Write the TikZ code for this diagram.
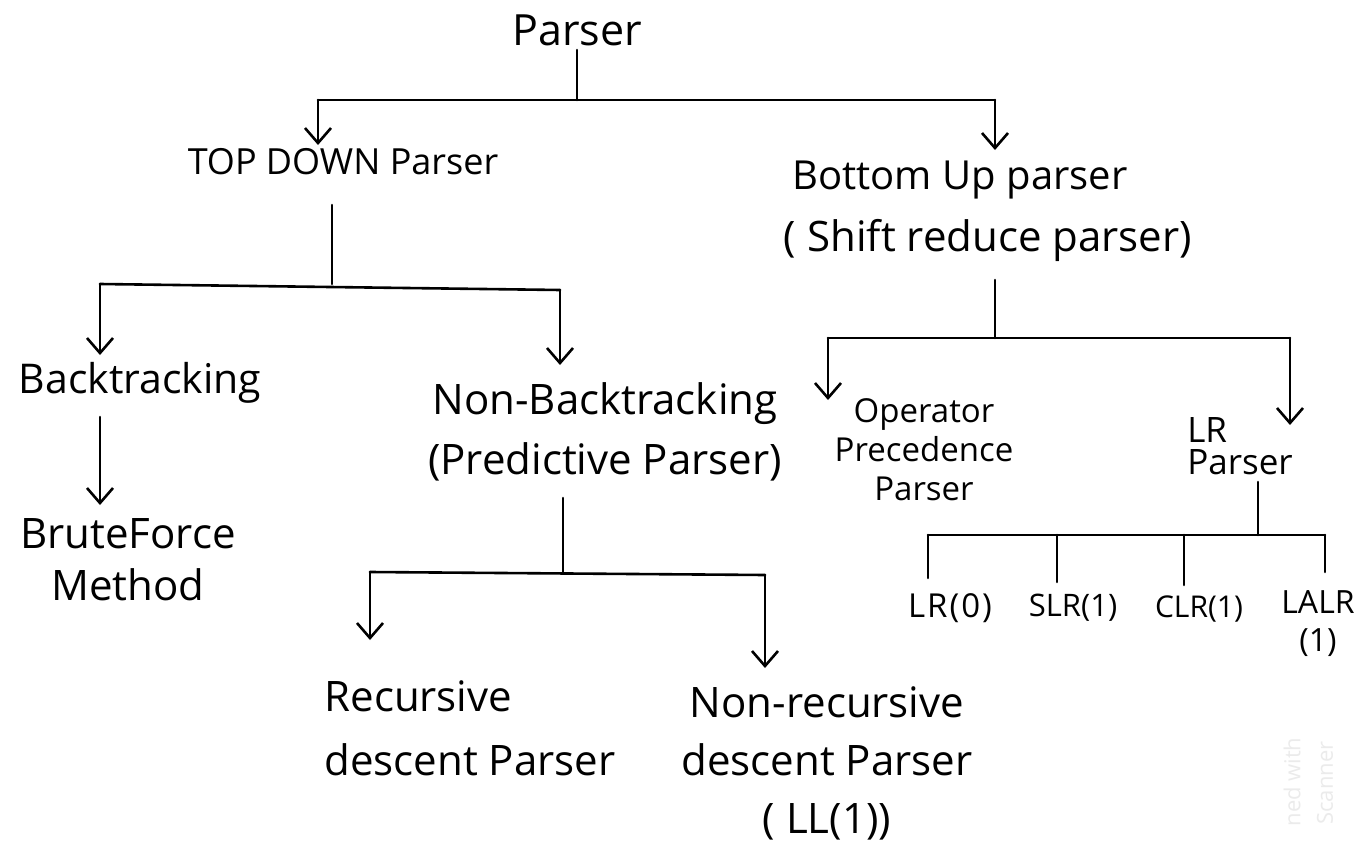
\documentclass[tikz,border=0pt]{standalone}
\usepackage{fontspec}
\setmainfont{Open Sans}
\usetikzlibrary{arrows.meta}
\newcommand{\fs}[2]{\fontsize{#1}{#2}\selectfont}
\begin{document}
\begin{tikzpicture}[x=1pt,y=-1pt,
  ln/.style={line width=2.6pt, line cap=round, line join=round},
  arr/.style={ln, -{Straight Barb[length=15pt,width=26pt,line width=2.6pt]}},
  lbl/.style={inner sep=0pt, align=center}]
\useasboundingbox (0,0) rectangle (1358,843);
\fill[white] (0,0) rectangle (1358,843);

% nodes
\node[lbl, font=\fs{43}{48}] (parser) at (577,30) {Parser};
\node[lbl, font=\fs{36}{40}] (td) at (343,162) {TOP DOWN Parser};
\node[lbl, font=\fs{40}{44}] (bu) at (960,180) {Bottom Up parser};
\node[lbl, font=\fs{42}{46}] (bu2) at (988,240) {( Shift reduce parser)};
\node[lbl, font=\fs{41}{46}] (bt) at (140,383) {Backtracking};
\node[lbl, font=\fs{42}{52}] (bf) at (128,560) {BruteForce\\Method};
\node[lbl, font=\fs{42}{60}] (nbt) at (605,432) {Non-Backtracking\\(Predictive Parser)};
\node[lbl, align=left, font=\fs{42}{64}] (rd) at (470,728) {Recursive\\descent Parser};
\node[lbl, font=\fs{42}{58}] (nrd) at (827,763) {Non-recursive\\descent Parser\\( LL(1))};
\node[lbl, font=\fs{33}{39}] (op) at (924,450) {Operator\\Precedence\\Parser};
\node[lbl, align=left, font=\fs{35}{32}] (lr) at (1240,446) {LR\\Parser};
\node[lbl, font=\fs{33}{36}\addfontfeature{LetterSpace=6}] (lr0) at (950,608) {LR(0)};
\node[lbl, font=\fs{31}{34}] (slr) at (1073,608) {SLR(1)};
\node[lbl, font=\fs{30}{34}] (clr) at (1199,609) {CLR(1)};
\node[lbl, font=\fs{32}{38}] (lalr) at (1318,624) {LALR\\(1)};

% watermark
\node[lbl, rotate=90, text=black!8, font=\fs{22}{26}] (wm1) at (1292,782) {ned with};
\node[lbl, rotate=90, text=black!8, font=\fs{22}{26}] (wm2) at (1325,783) {Scanner};

% level 1
\coordinate (p0) at (577,50);
\coordinate (j0) at (577,100);
\coordinate (jL) at (318,100);
\coordinate (jR) at (995,100);
\coordinate (tdin) at (318,145);
\coordinate (buin) at (995,150);
\draw[ln] (p0) -- (j0);
\draw[ln] (jL) -- (jR);
\draw[arr] (jL) -- (tdin);
\draw[arr] (jR) -- (buin);

% top-down branch
\coordinate (t0) at (332,205);
\coordinate (t1) at (332,284);
\coordinate (tL) at (100,284);
\coordinate (tR) at (560,290);
\coordinate (btin) at (100,355);
\coordinate (nbtin) at (560,365);
\draw[ln] (t0) -- (t1);
\draw[ln] (tL) -- (tR);
\draw[arr] (tL) -- (btin);
\draw[arr] (tR) -- (nbtin);

\coordinate (b0) at (100,417);
\coordinate (bfin) at (100,505);
\draw[arr] (b0) -- (bfin);

% predictive branch
\coordinate (n0) at (563,498);
\coordinate (n1) at (563,572);
\coordinate (nL) at (370,572);
\coordinate (nR) at (765,575);
\coordinate (rdin) at (370,640);
\coordinate (nrdin) at (765,668);
\draw[ln] (n0) -- (n1);
\draw[ln] (nL) -- (nR);
\draw[arr] (nL) -- (rdin);
\draw[arr] (nR) -- (nrdin);

% bottom-up branch
\coordinate (u0) at (995,280);
\coordinate (u1) at (995,338);
\coordinate (uL) at (828,338);
\coordinate (uR) at (1290,338);
\coordinate (opin) at (828,400);
\coordinate (lrin) at (1290,425);
\draw[ln] (u0) -- (u1);
\draw[ln] (uL) -- (uR);
\draw[arr] (uL) -- (opin);
\draw[arr] (uR) -- (lrin);

% LR branch
\coordinate (r0) at (1258,482);
\coordinate (r1) at (1258,535);
\coordinate (rA) at (928,535);
\coordinate (rB) at (1057,535);
\coordinate (rC) at (1184,535);
\coordinate (rD) at (1325,535);
\coordinate (rAe) at (928,578);
\coordinate (rBe) at (1057,582);
\coordinate (rCe) at (1184,585);
\coordinate (rDe) at (1325,572);
\draw[ln] (r0) -- (r1);
\draw[ln] (rA) -- (rD);
\draw[ln] (rA) -- (rAe);
\draw[ln] (rB) -- (rBe);
\draw[ln] (rC) -- (rCe);
\draw[ln] (rD) -- (rDe);
\end{tikzpicture}
\end{document}
